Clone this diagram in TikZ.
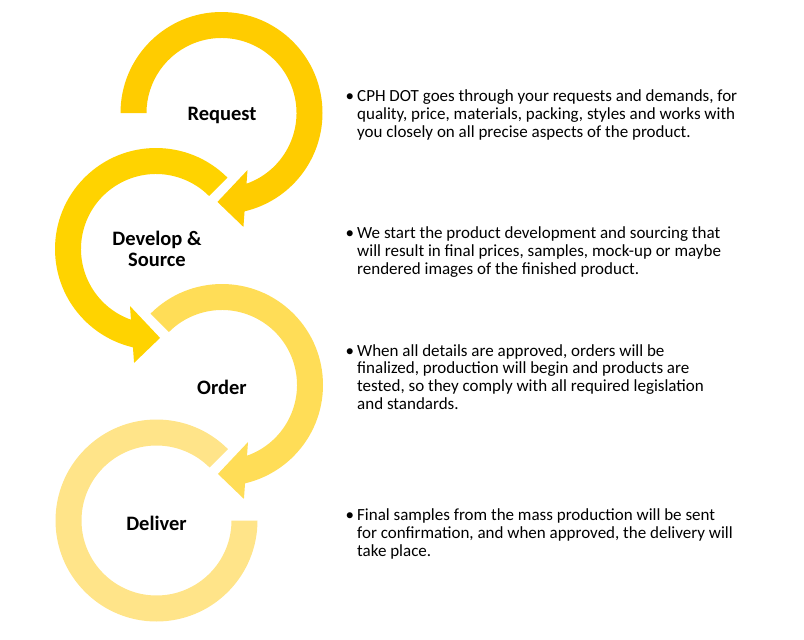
\documentclass[tikz,border=0pt]{standalone}
\usepackage{fontspec}
\setmainfont{Carlito}
\usepackage{tikz}

\definecolor{ringone}{RGB}{255,204,0}
\definecolor{ringtwo}{RGB}{255,211,0}
\definecolor{ringthree}{RGB}{255,221,87}
\definecolor{ringfour}{RGB}{255,228,137}

\tikzset{
  stagelabel/.style={anchor=base, align=center, inner sep=0pt,
    font=\fontsize{20.5}{21}\selectfont\bfseries},
  stagetext/.style={anchor=base west, align=left, inner sep=0pt,
    font=\fontsize{17}{17.8}\selectfont},
}

\begin{document}
\begin{tikzpicture}[x=1pt, y=1pt]
  \useasboundingbox (0,0) rectangle (804,-640);
  % rings, from the last stage up
  \fill[ringfour, shift={(156.5,-520.5)}] (45:101) arc[start angle=45, end angle=360, radius=101]
    -- (0:75) arc[start angle=360, end angle=45, radius=75] -- cycle;
  \fill[ringthree, shift={(222,-385)}] (135:101) arc[start angle=135, end angle=-76.8, radius=101]
    -- (-79.1:116) -- (-92.6:89) -- (-65.5:62.7)
    -- (-70.5:75) arc[start angle=-70.5, end angle=135, radius=75] -- cycle;
  \fill[ringtwo, shift={(156,-249)}] (45:101) arc[start angle=45, end angle=256.8, radius=101]
    -- (259.1:116) -- (272.6:89) -- (245.5:62.7)
    -- (250.5:75) arc[start angle=250.5, end angle=45, radius=75] -- cycle;
  \fill[ringone, shift={(221.5,-113)}] (180:101) arc[start angle=180, end angle=-76.8, radius=101]
    -- (-79.1:116) -- (-92.6:89) -- (-65.5:62.7)
    -- (-70.5:75) arc[start angle=-70.5, end angle=180, radius=75] -- cycle;

  % stage names (base = last line)
  \node[stagelabel] (request) at (222,-120) {Request};
  \node[stagelabel] (develop) at (157,-266.5) {Develop \&\\Source};
  \node[stagelabel] (order) at (222,-394.5) {Order};
  \node[stagelabel] (deliver) at (156.5,-530) {Deliver};

  % descriptions (base = last line)
  \node[stagetext] (requesttext) at (357,-137.5) {\llap{\textbullet\kern3pt}CPH DOT goes through your requests and demands, for\\
    quality, price, materials, packing, styles and works with\\
    you closely on all precise aspects of the product.};
  \node[stagetext] (developtext) at (357,-274) {\llap{\textbullet\kern3pt}We start the product development and sourcing that\\
    will result in final prices, samples, mock-up or maybe\\
    rendered images of the finished product.};
  \node[stagetext] (ordertext) at (357,-409.5) {\llap{\textbullet\kern3pt}When all details are approved, orders will be\\
    finalized, production will begin and products are\\
    tested, so they comply with all required legislation\\
    and standards.};
  \node[stagetext] (delivertext) at (357,-556) {\llap{\textbullet\kern3pt}Final samples from the mass production will be sent\\
    for confirmation, and when approved, the delivery will\\
    take place.};
\end{tikzpicture}
\end{document}
